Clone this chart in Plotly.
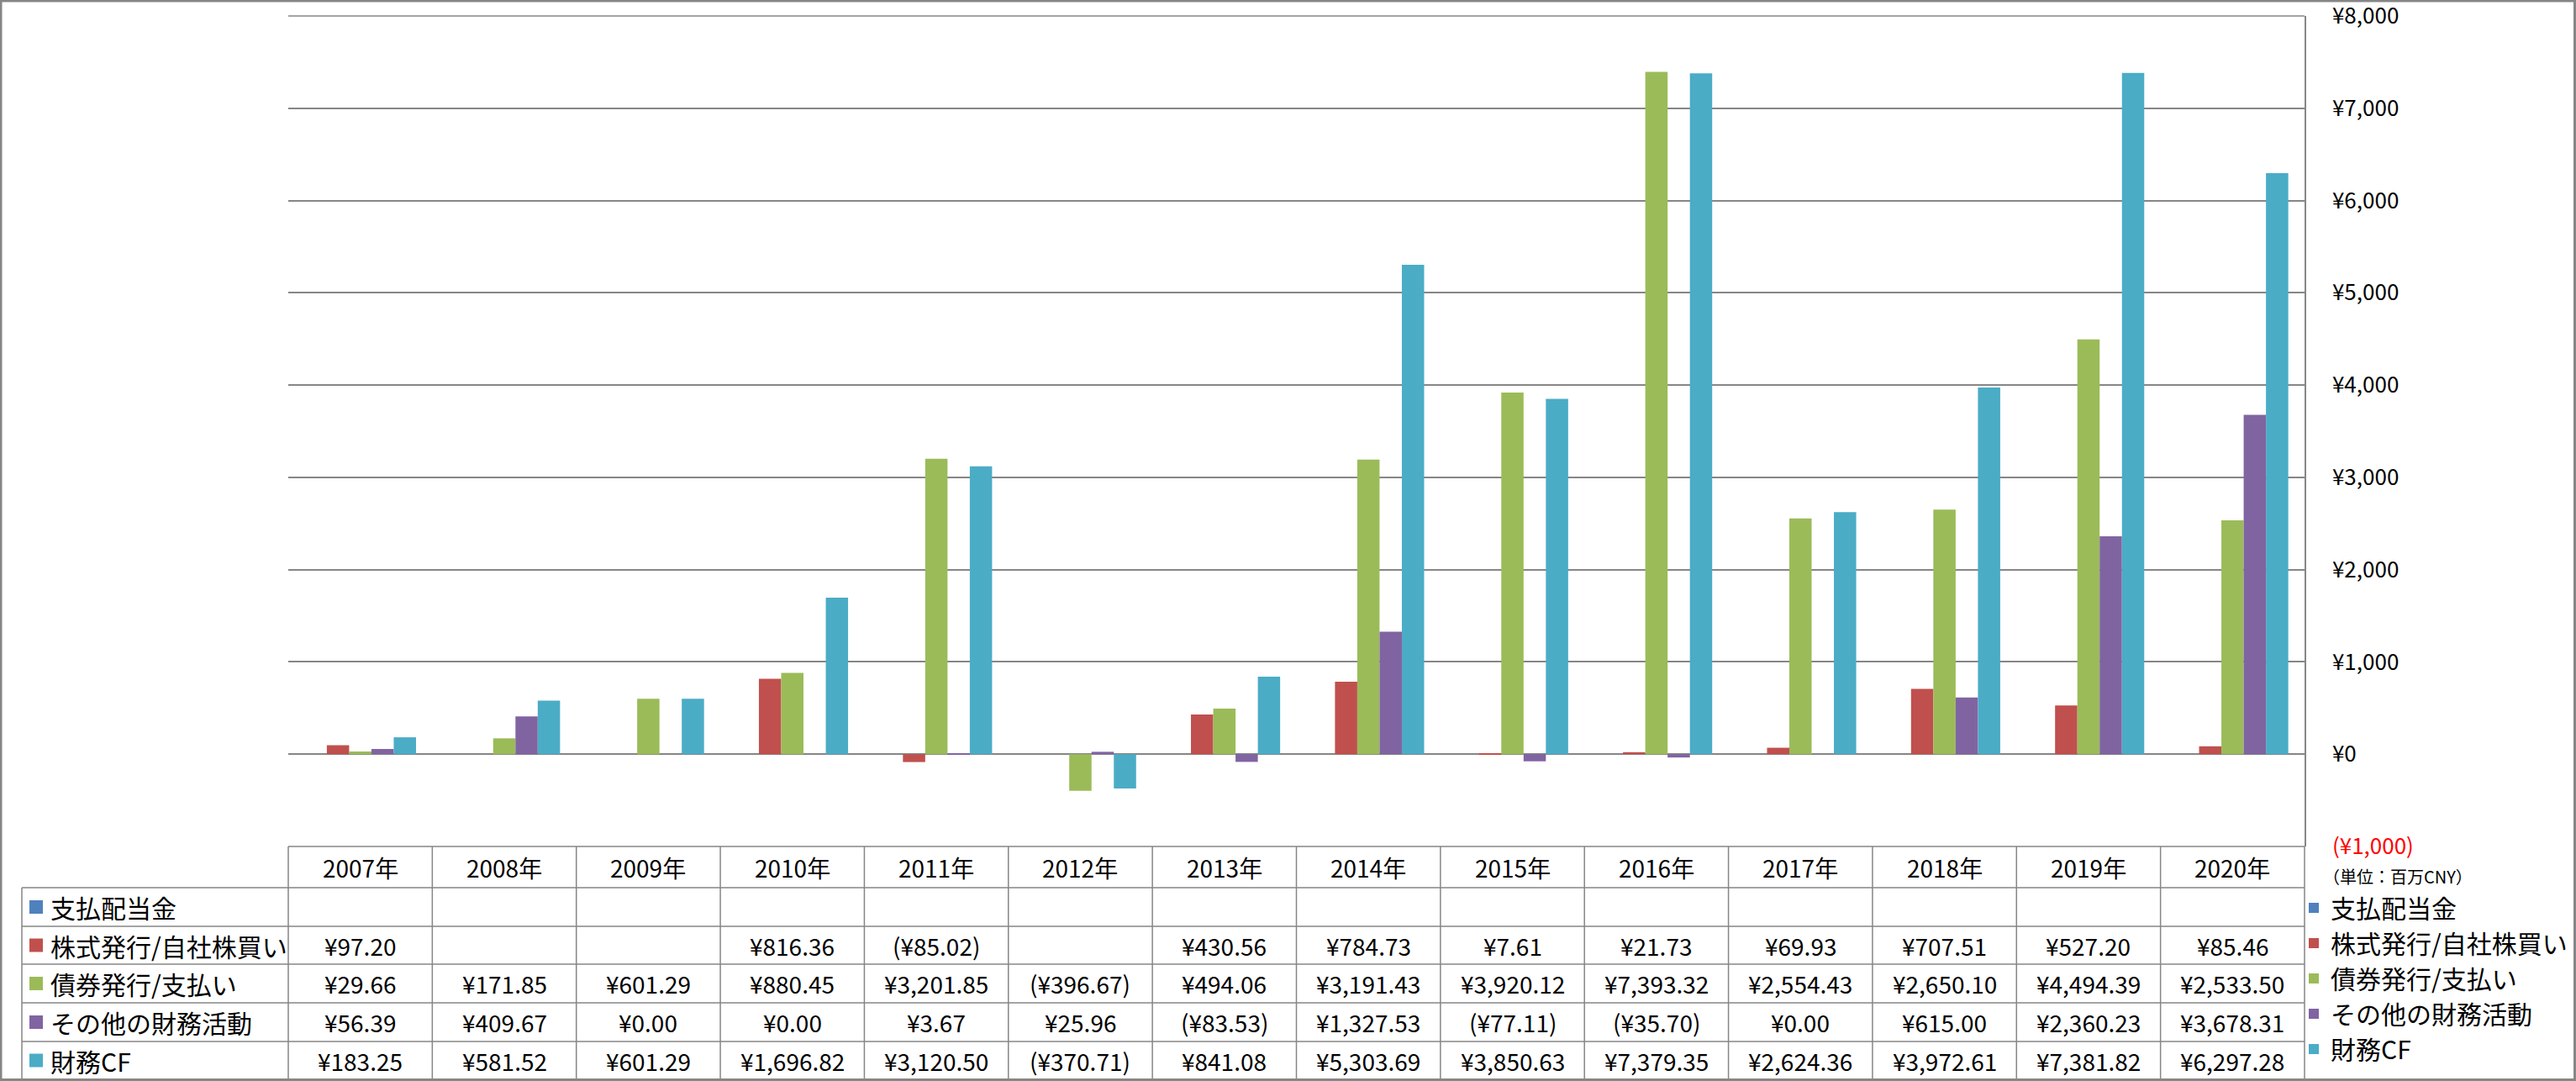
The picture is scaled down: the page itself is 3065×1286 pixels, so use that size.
import plotly.graph_objects as go

# ---------------- data ----------------
years = ["2007年", "2008年", "2009年", "2010年", "2011年", "2012年", "2013年",
         "2014年", "2015年", "2016年", "2017年", "2018年", "2019年", "2020年"]

dividends = [None] * 14  # 支払配当金 (no values)
equity = [97.20, None, None, 816.36, -85.02, None, 430.56, 784.73, 7.61, 21.73,
          69.93, 707.51, 527.20, 85.46]
bonds = [29.66, 171.85, 601.29, 880.45, 3201.85, -396.67, 494.06, 3191.43, 3920.12,
         7393.32, 2554.43, 2650.10, 4494.39, 2533.50]
other = [56.39, 409.67, 0.00, 0.00, 3.67, 25.96, -83.53, 1327.53, -77.11, -35.70,
         0.00, 615.00, 2360.23, 3678.31]
fin_cf = [183.25, 581.52, 601.29, 1696.82, 3120.50, -370.71, 841.08, 5303.69, 3850.63,
          7379.35, 2624.36, 3972.61, 7381.82, 6297.28]

series_names = ["支払配当金", "株式発行/自社株買い", "債券発行/支払い", "その他の財務活動", "財務CF"]
series_values = [dividends, equity, bonds, other, fin_cf]
series_colors = ["#4F81BD", "#C0504D", "#9BBB59", "#8064A2", "#4BACC6"]

tick_vals = [-1000, 0, 1000, 2000, 3000, 4000, 5000, 6000, 7000, 8000]
tick_text = ["<span style='color:#FF0000'>(¥1,000)</span>", "¥0", "¥1,000", "¥2,000",
             "¥3,000", "¥4,000", "¥5,000", "¥6,000", "¥7,000", "¥8,000"]
unit_label = "（単位：百万CNY）"

# ---------------- layout geometry (pixels) ----------------
W, H = 3065, 1286
PL, PR, PT, PB = 343, 2742, 19, 1007          # plot area
GRID = "#868686"
FONT_JP = "Noto Sans CJK JP"


def fx(px):
    return (px - PL) / (PR - PL)


def fy(py):
    return (PB - py) / (PB - PT)


row_lines = [1007, 1056, 1102, 1147, 1193, 1239, 1284]
row_centers = [(row_lines[i] + row_lines[i + 1]) / 2 for i in range(len(row_lines) - 1)]
label_left = 26


def fmt(v):
    if v is None:
        return ""
    s = "¥{:,.2f}".format(abs(v))
    return "({})".format(s) if v < 0 else s


fig = go.Figure()
for name, vals, col in zip(series_names, series_values, series_colors):
    fig.add_trace(go.Bar(
        x=years, y=vals, name=name, marker=dict(color=col, line=dict(width=0)),
        legendgroup=name, hoverinfo="skip",
    ))

shapes = []
annotations = []

# outer border
shapes.append(dict(type="rect", xref="paper", yref="paper",
                   x0=fx(1), x1=fx(W - 1.5), y0=fy(1), y1=fy(H - 1.5),
                   line=dict(color=GRID, width=3), fillcolor="rgba(0,0,0,0)", layer="below"))

# top gridline (at the upper end of the value axis)
shapes.append(dict(type="line", xref="paper", yref="paper", x0=0, x1=1, y0=1, y1=1,
                   line=dict(color=GRID, width=1.5), layer="below"))

# table horizontal lines
for i, py in enumerate(row_lines):
    x0 = fx(PL) if i == 0 else fx(label_left)
    shapes.append(dict(type="line", xref="paper", yref="paper", x0=x0, x1=1,
                       y0=fy(py), y1=fy(py), line=dict(color=GRID, width=1.5)))
# table vertical lines
for i in range(len(years) - 1):
    shapes.append(dict(type="line", xref="x", yref="paper", x0=i + 0.5, x1=i + 0.5,
                       y0=fy(row_lines[0]), y1=fy(row_lines[-1]), line=dict(color=GRID, width=1.5)))
shapes.append(dict(type="line", xref="paper", yref="paper", x0=0, x1=0,
                   y0=fy(row_lines[0]), y1=fy(row_lines[-1]), line=dict(color=GRID, width=1.5)))
shapes.append(dict(type="line", xref="paper", yref="paper", x0=1, x1=1,
                   y0=fy(row_lines[0]), y1=fy(row_lines[-1]), line=dict(color=GRID, width=1.5)))
shapes.append(dict(type="line", xref="paper", yref="paper", x0=fx(label_left), x1=fx(label_left),
                   y0=fy(row_lines[1]), y1=fy(row_lines[-1]), line=dict(color=GRID, width=1.5)))

# header row (years)
for yr in years:
    annotations.append(dict(xref="x", yref="paper", x=yr, y=fy(row_centers[0]), text=yr,
                            showarrow=False, xanchor="center", yanchor="middle",
                            font=dict(family=FONT_JP, size=28, color="#000000")))

# data rows
for r, (name, vals, col) in enumerate(zip(series_names, series_values, series_colors)):
    cy = row_centers[r + 1]
    shapes.append(dict(type="rect", xref="paper", yref="paper",
                       x0=fx(35), x1=fx(51), y0=fy(cy - 8), y1=fy(cy + 8),
                       fillcolor=col, line=dict(width=0)))
    annotations.append(dict(xref="paper", yref="paper", x=fx(58), y=fy(cy), text=name,
                            showarrow=False, xanchor="left", yanchor="middle",
                            font=dict(family=FONT_JP, size=30, color="#000000")))
    for yr, v in zip(years, vals):
        t = fmt(v)
        if t:
            annotations.append(dict(xref="x", yref="paper", x=yr, y=fy(cy), text=t,
                                    showarrow=False, xanchor="center", yanchor="middle",
                                    font=dict(family=FONT_JP, size=28, color="#000000")))

# unit label
annotations.append(dict(xref="paper", yref="paper", x=fx(2762), y=fy(1042), text=unit_label,
                        showarrow=False, xanchor="left", yanchor="middle",
                        font=dict(family=FONT_JP, size=20, color="#000000")))

fig.update_layout(
    width=W, height=H,
    margin=dict(l=PL, r=W - PR, t=PT, b=H - PB, pad=0, autoexpand=False),
    paper_bgcolor="#FFFFFF", plot_bgcolor="#FFFFFF",
    barmode="group", bargap=0.226, bargroupgap=0,
    font=dict(family=FONT_JP, color="#000000"),
    xaxis=dict(type="category", showticklabels=False, showgrid=False, zeroline=False,
               showline=False, ticks="", range=[-0.5, len(years) - 0.5], automargin=False),
    yaxis=dict(side="right", range=[-1000, 8000], tickvals=tick_vals, ticktext=tick_text,
               showgrid=True, gridcolor=GRID, gridwidth=1.5, zeroline=True, zerolinecolor=GRID,
               zerolinewidth=1.5, showline=True, linecolor=GRID, linewidth=1.5, ticks="",
               automargin=False, ticklabeloverflow="allow",
               ticklabelstandoff=26, tickfont=dict(family=FONT_JP, size=26, color="#000000")),
    showlegend=True,
    legend=dict(x=fx(2733), y=fy(1054), xanchor="left", yanchor="top",
                font=dict(family=FONT_JP, size=30, color="#000000"),
                tracegroupgap=5, traceorder="normal", bgcolor="rgba(0,0,0,0)",
                borderwidth=0, itemclick=False),
    shapes=shapes, annotations=annotations,
)

fig.write_html("out.html")
